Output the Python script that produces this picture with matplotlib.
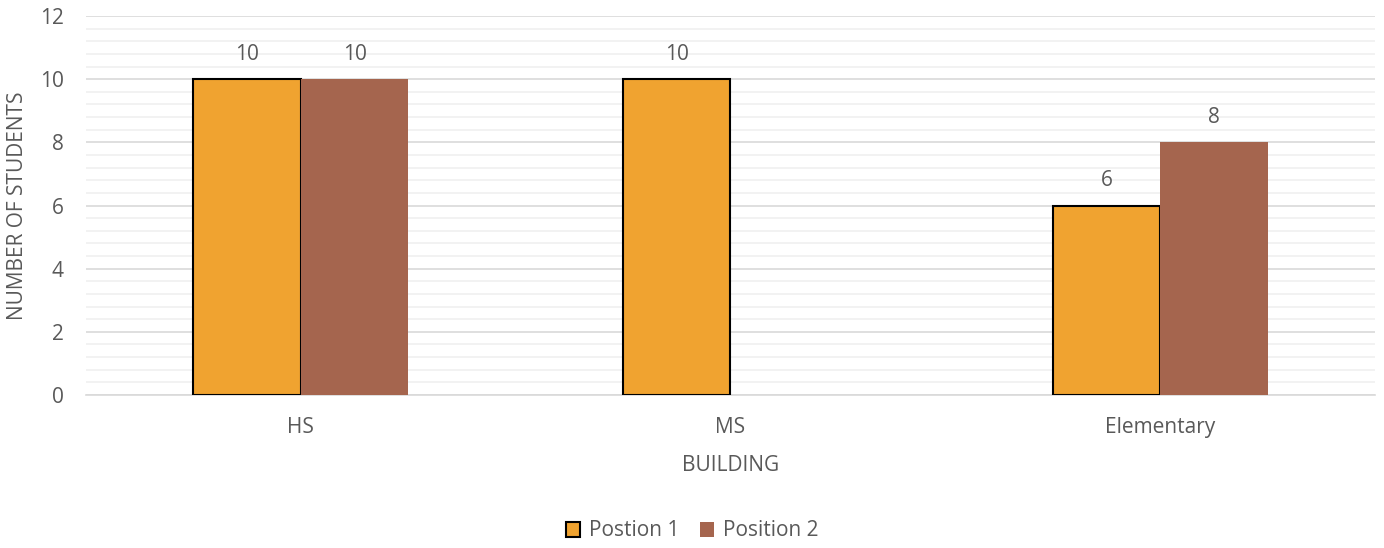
import numpy as np
import matplotlib
matplotlib.use("Agg")
import matplotlib.pyplot as plt
from matplotlib.ticker import MultipleLocator

buildings = ["HS", "MS", "Elementary"]
position_1 = [10, 10, 6]
position_2 = [10, np.nan, 8]

ORANGE = "#F0A330"
BROWN = "#A5654E"
TEXT = "#595959"

plt.rcParams["font.family"] = ["Open Sans", "DejaVu Sans"]

fig = plt.figure(figsize=(13.84, 5.48), dpi=100)
ax = fig.add_axes([86 / 1384, 1 - 395 / 548, (1375 - 86) / 1384, (395 - 16) / 548])

x = np.arange(len(buildings))
w = 0.25
b1 = ax.bar(x - w / 2, position_1, w, color=ORANGE, edgecolor="black", linewidth=1.5,
            label="Postion 1", zorder=3)
b2 = ax.bar(x + w / 2, position_2, w, color=BROWN, edgecolor="none", linewidth=0,
            label="Position 2", zorder=3)

for bars, vals in ((b1, position_1), (b2, position_2)):
    for rect, v in zip(bars, vals):
        if np.isnan(v):
            continue
        ax.annotate(f"{v:g}", (rect.get_x() + rect.get_width() / 2, v),
                    xytext=(0, 18), textcoords="offset points",
                    ha="center", va="center", fontsize=15, color=TEXT)

ax.set_xlim(-0.5, 2.5)
ax.set_ylim(0, 12)
ax.yaxis.set_major_locator(MultipleLocator(2))
ax.yaxis.set_minor_locator(MultipleLocator(0.4))
ax.grid(which="major", axis="y", color="#D9D9D9", linewidth=1.2, zorder=0)
ax.grid(which="minor", axis="y", color="#F0F0F0", linewidth=1.2, zorder=0)
ax.set_axisbelow(True)

for s in ["top", "right", "left"]:
    ax.spines[s].set_visible(False)
ax.spines["bottom"].set_color("#D9D9D9")
ax.spines["bottom"].set_linewidth(1.2)

ax.set_xticks(x)
ax.set_xticklabels(buildings)
ax.tick_params(axis="both", which="both", length=0, labelsize=15, labelcolor=TEXT)
ax.tick_params(axis="x", pad=16)
ax.tick_params(axis="y", pad=16)

ax.set_xlabel("BUILDING", fontsize=15, color=TEXT, labelpad=12)
ax.set_ylabel("NUMBER OF STUDENTS", fontsize=15, color=TEXT, va="center")
ax.yaxis.set_label_coords((18 - 86) / 1289, 0.5)

fig.legend(handles=[b1, b2], loc="center", bbox_to_anchor=(0.5, 1 - 531 / 548),
           ncol=2, frameon=False, fontsize=15, labelcolor=TEXT,
           handlelength=0.7, handleheight=0.7, handletextpad=0.4, columnspacing=1.0)

fig.savefig("out.png", dpi=100)
